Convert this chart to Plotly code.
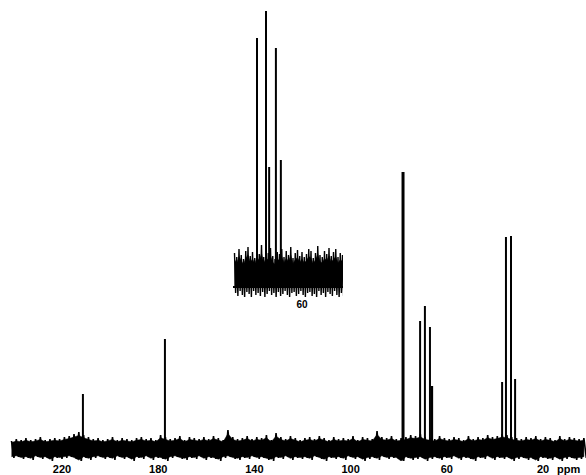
import plotly.graph_objects as go

# ---- main spectrum (ppm, height above baseline) ----
peak_ppm = [211.3, 177.2, 78.2, 71.1, 69.1, 67.0, 66.2, 37.0, 35.4, 33.3, 31.6]
peak_height = [55, 110, 277, 128, 143, 122, 63, 67, 212, 213, 70]
peak_width = [2, 2, 3, 2, 2, 2, 2.5, 2, 2, 2, 2]

# baseline noise envelope (every 2 ppm, 241 -> 3)
noise_step = 2.0
noise_ppm = [241 - noise_step * i for i in range(120)]
noise_upper = [8, 10, 9, 11, 9, 10, 12, 9, 10, 11,
               10, 12, 13, 15, 17, 14, 12, 10, 11, 9,
               10, 12, 9, 11, 10, 9, 11, 12, 10, 11,
               9, 14, 12, 10, 11, 13, 9, 12, 11, 10,
               12, 10, 13, 11, 9, 19, 12, 10, 11, 13,
               10, 12, 11, 14, 9, 16, 12, 10, 13, 11,
               9, 11, 12, 10, 13, 11, 9, 12, 10, 11,
               10, 13, 9, 12, 11, 10, 18, 12, 11, 13,
               10, 11, 12, 14, 13, 15, 12, 11, 10, 13,
               11, 10, 12, 11, 9, 13, 10, 12, 11, 14,
               12, 13, 15, 14, 12, 11, 10, 12, 11, 13,
               10, 12, 11, 9, 13, 10, 12, 11, 10, 11]
noise_lower = [-9, -8, -10, -9, -11, -8, -10, -9, -12, -9,
               -10, -9, -8, -10, -13, -9, -11, -9, -8, -10,
               -9, -11, -8, -10, -9, -12, -9, -10, -8, -11,
               -9, -10, -12, -9, -8, -10, -11, -9, -10, -8,
               -11, -9, -10, -12, -9, -8, -10, -11, -9, -10,
               -8, -10, -9, -11, -12, -9, -10, -8, -11, -9,
               -10, -9, -11, -8, -10, -12, -9, -10, -9, -11,
               -8, -10, -9, -12, -10, -9, -11, -8, -10, -9,
               -10, -14, -9, -11, -10, -9, -12, -10, -9, -11,
               -9, -10, -8, -11, -9, -10, -12, -9, -10, -8,
               -11, -9, -10, -9, -12, -10, -9, -11, -10, -13,
               -9, -10, -11, -9, -12, -10, -9, -11, -10, -9]

tick_vals = [220, 180, 140, 100, 60, 20]
tick_text = ["220", "180", "140", "100", "60", "20"]

# ---- inset (expanded region) ----
inset_peak_ppm = [70.0, 68.0, 67.3, 65.8, 64.7]
inset_peak_height = [249, 276, 120, 239, 127]
inset_step = 0.5
inset_noise_ppm = [75.0 - inset_step * i for i in range(49)]
inset_upper = [34, 30, 38, 32, 28, 36, 40, 31, 35, 29,
               37, 33, 42, 30, 36, 34, 39, 31, 28, 35,
               33, 38, 30, 36, 32, 40, 29, 34, 37, 31,
               35, 30, 33, 38, 36, 29, 34, 41, 32, 30,
               36, 33, 39, 31, 35, 38, 30, 34, 32]
inset_lower = [-6, -9, -4, -8, -11, -5, -7, -10, -4, -8,
               -6, -9, -5, -10, -7, -4, -8, -6, -11, -5,
               -9, -7, -4, -8, -10, -6, -5, -9, -7, -4,
               -8, -10, -6, -5, -9, -7, -11, -4, -8, -6,
               -10, -5, -7, -9, -4, -8, -11, -6, -9]
inset_ticks = [60]


def zigzag(xs, up, lo, step):
    zx, zy = [], []
    for x, u, l in zip(xs, up, lo):
        zx += [x, x - step / 2]
        zy += [u, l]
    return zx, zy


fig = go.Figure()

# main noise band: solid core + zigzag scribble
fig.add_trace(go.Scatter(
    x=noise_ppm + noise_ppm[::-1],
    y=[u * 0.8 for u in noise_upper] + [l * 0.85 for l in noise_lower[::-1]],
    mode="lines", fill="toself", fillcolor="black",
    line=dict(color="black", width=0.5), hoverinfo="skip", showlegend=False))
zx, zy = zigzag(noise_ppm, noise_upper, noise_lower, noise_step)
fig.add_trace(go.Scatter(x=zx, y=zy, mode="lines",
                         line=dict(color="black", width=1.6),
                         hoverinfo="skip", showlegend=False))

# main peaks
for p, h, w in zip(peak_ppm, peak_height, peak_width):
    fig.add_trace(go.Scatter(x=[p, p], y=[0, h], mode="lines",
                             line=dict(color="black", width=w), showlegend=False))

# inset noise band
fig.add_trace(go.Scatter(
    x=inset_noise_ppm + inset_noise_ppm[::-1],
    y=[u * 0.8 for u in inset_upper] + [0 * l for l in inset_lower[::-1]],
    mode="lines", fill="toself", fillcolor="black",
    line=dict(color="black", width=0.5), hoverinfo="skip", showlegend=False,
    xaxis="x2", yaxis="y2"))
zx2, zy2 = zigzag(inset_noise_ppm, inset_upper, inset_lower, inset_step)
fig.add_trace(go.Scatter(x=zx2, y=zy2, mode="lines", xaxis="x2", yaxis="y2",
                         line=dict(color="black", width=1.4),
                         hoverinfo="skip", showlegend=False))

for p, h in zip(inset_peak_ppm, inset_peak_height):
    fig.add_trace(go.Scatter(x=[p, p], y=[0, h], mode="lines", xaxis="x2", yaxis="y2",
                             line=dict(color="black", width=2), showlegend=False))

W, H, B = 586, 475, 14
PH = H - B


def px_to_ppm(x):
    return 220 - (x - 62) / 2.405


tickfont = dict(family="Liberation Sans", size=11, color="black")

fig.update_layout(
    width=W, height=H,
    margin=dict(l=0, r=0, t=0, b=B),
    paper_bgcolor="white", plot_bgcolor="white",
    showlegend=False,
    xaxis=dict(range=[px_to_ppm(0), px_to_ppm(W)], domain=[0, 1],
               tickvals=tick_vals, ticktext=["<b>%s</b>" % t for t in tick_text],
               showgrid=False, zeroline=False, showline=False, ticks="",
               tickfont=tickfont),
    yaxis=dict(range=[-12, PH - 12], domain=[0, 1], visible=False),
    xaxis2=dict(range=[60 + (302 - 233) / 4.5, 60 - (343 - 302) / 4.5],
                domain=[233 / W, 343 / W], anchor="y2",
                tickvals=inset_ticks, ticktext=["<b>60</b>"],
                showgrid=False, zeroline=False, showline=False, ticks="",
                tickfont=dict(family="Liberation Sans", size=10, color="black")),
    yaxis2=dict(range=[-10, 282], domain=[(PH - 297) / PH, (PH - 5) / PH], anchor="x2",
                showgrid=False, showticklabels=False, ticks="",
                zeroline=True, zerolinecolor="black", zerolinewidth=1.5, showline=False),
    annotations=[dict(text="<b>ppm</b>", x=568 / W, y=-(469 - PH) / PH,
                      xref="paper", yref="paper", yanchor="middle", xanchor="center",
                      showarrow=False, font=tickfont)],
)

fig.write_html("out.html", config={"displayModeBar": False},
               post_script="document.body.style.margin='0px';")
